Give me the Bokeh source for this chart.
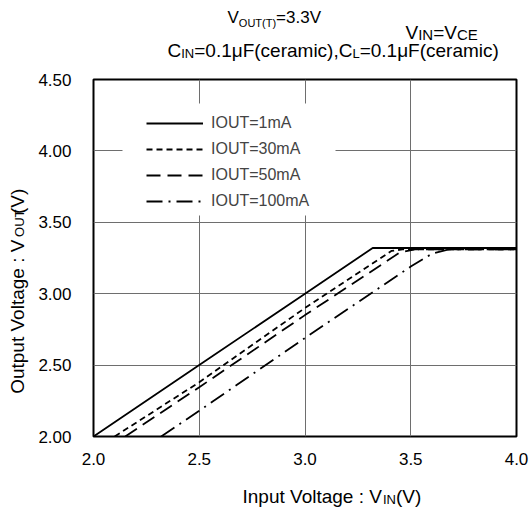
import math
from bokeh.plotting import figure
from bokeh.layouts import column, row
from bokeh.models import Label, Legend, LegendItem, FixedTicker, NumeralTickFormatter, BoxAnnotation, Range1d
from bokeh.embed import file_html
from bokeh.resources import INLINE

# ---------------- data ----------------
vin_1mA = [2.00, 2.50, 3.00, 3.32, 3.50, 4.00]
vout_1mA = [2.00, 2.50, 3.00, 3.32, 3.32, 3.32]

vin_30mA = [2.10, 2.50, 3.00, 3.41, 3.46, 4.00]
vout_30mA = [2.00, 2.38, 2.90, 3.30, 3.31, 3.31]

vin_50mA = [2.15, 2.50, 3.00, 3.45, 3.52, 4.00]
vout_50mA = [2.00, 2.345, 2.85, 3.29, 3.31, 3.31]

vin_100mA = [2.32, 2.50, 3.00, 3.50, 3.60, 3.68, 4.00]
vout_100mA = [2.00, 2.18, 2.69, 3.19, 3.28, 3.31, 3.31]

series_labels = ["IOUT=1mA", "IOUT=30mA", "IOUT=50mA", "IOUT=100mA"]
x_ticks = [2.0, 2.5, 3.0, 3.5, 4.0]
y_ticks = [2.0, 2.5, 3.0, 3.5, 4.0, 4.5]

FONT = "Liberation Sans"

# ---------------- layout sizes (page pixels) ----------------
TOP_H, LEFT_W, BOT_H = 66, 30, 30
TOTAL_W, TOTAL_H = 529, 513
MAIN_W, MAIN_H = TOTAL_W - LEFT_W, TOTAL_H - TOP_H - BOT_H
FRAME_T = 79 - TOP_H

# ---------------- main figure ----------------
p = figure(width=MAIN_W, height=MAIN_H, output_backend="svg", toolbar_location=None, title=None,
           x_range=Range1d(2.0, 4.0), y_range=Range1d(2.0, 4.5),
           min_border_left=93 - LEFT_W, min_border_right=13, min_border_top=FRAME_T,
           min_border_bottom=MAIN_H - FRAME_T - 357)
p.background_fill_color = "white"
p.border_fill_color = "white"
p.outline_line_color = "black"
p.outline_line_width = 2

for ax in (p.xaxis[0], p.yaxis[0]):
    ax.axis_line_color = None
    ax.major_tick_line_color = None
    ax.minor_tick_line_color = None
    ax.major_label_text_font = FONT
    ax.major_label_text_font_size = "17px"
    ax.major_label_text_color = "black"
p.xaxis[0].ticker = FixedTicker(ticks=x_ticks)
p.yaxis[0].ticker = FixedTicker(ticks=y_ticks)
p.xaxis[0].formatter = NumeralTickFormatter(format="0.0")
p.yaxis[0].formatter = NumeralTickFormatter(format="0.00")
p.xaxis[0].major_label_standoff = 10
p.yaxis[0].major_label_standoff = 16

p.xgrid.ticker = FixedTicker(ticks=[2.5, 3.0, 3.5])
p.ygrid.ticker = FixedTicker(ticks=[2.5, 3.0, 3.5, 4.0])
p.grid.grid_line_color = "#6e6e6e"
p.grid.grid_line_width = 1

lw = 1.8
r1 = p.line(vin_1mA, vout_1mA, line_color="black", line_width=lw)
r2 = p.line(vin_30mA, vout_30mA, line_color="black", line_width=lw, line_dash="6 4")
r3 = p.line(vin_50mA, vout_50mA, line_color="black", line_width=lw, line_dash="14 7")
r4 = p.line(vin_100mA, vout_100mA, line_color="black", line_width=lw, line_dash="16 6 2 6")

# page pixel -> main data coordinates (frame spans x 93..516, y 79..436)
def dx(px):
    return 2.0 + (px - 93) / 423 * 2.0

def dy(py):
    return 2.0 + (436 - py) / 357 * 2.5

p.add_layout(BoxAnnotation(left=dx(122), right=dx(335), top=dy(103), bottom=dy(215),
                           fill_color="white", fill_alpha=1.0, line_color=None))
legend = Legend(items=[LegendItem(label=series_labels[0], renderers=[r1]),
                       LegendItem(label=series_labels[1], renderers=[r2]),
                       LegendItem(label=series_labels[2], renderers=[r3]),
                       LegendItem(label=series_labels[3], renderers=[r4])],
                location=(53, 225), orientation="vertical",
                glyph_width=57, glyph_height=20, label_height=20, spacing=6,
                padding=10, margin=0, label_standoff=8,
                label_text_font=FONT, label_text_font_size="16px",
                border_line_color=None, background_fill_color="white", background_fill_alpha=1.0)
p.add_layout(legend, "center")

# ---------------- text figures ----------------
W = {" ": 278, "(": 333, ")": 333, ",": 278, ".": 278, ":": 278, "=": 584,
     "A": 667, "C": 722, "E": 667, "F": 611, "I": 278, "L": 556, "N": 722,
     "O": 778, "T": 611, "U": 722, "V": 667, "a": 556, "c": 500, "e": 556,
     "g": 556, "i": 222, "l": 222, "m": 833, "n": 556, "o": 556, "p": 556,
     "r": 333, "t": 278, "u": 556, "\u03bc": 576}

def tw(s, size):
    return sum(W.get(c, 556) for c in s) * size / 1000.0

def text_fig(w, h):
    f = figure(width=w, height=h, output_backend="svg", toolbar_location=None, title=None,
               x_range=Range1d(0, w), y_range=Range1d(0, h), x_axis_type=None, y_axis_type=None,
               min_border=0)
    f.outline_line_color = None
    f.background_fill_color = "white"
    f.border_fill_color = "white"
    return f

BASE_FIX = 0.4    # baseline correction (fraction of font size)
MID = 0.3465      # baseline -> middle of text box (fraction of font size)
ROT_FIX = 0.14    # along-text correction for rotated runs (fraction of run length)

def runs(f, ox, oy, h, x_px, y_px, parts, vertical=False):
    for text, size, shift in parts:
        L = tw(text, size)
        if not vertical:
            f.add_layout(Label(x=x_px - ox, y=h - (y_px + shift - BASE_FIX * size - oy),
                               text=text, text_font=FONT,
                               text_font_size=f"{size}px", text_baseline="alphabetic",
                               text_align="left", text_color="black"))
            x_px += L
        else:
            cx = x_px + shift - MID * size
            cy = y_px - L / 2.0 + ROT_FIX * L
            f.add_layout(Label(x=cx - ox, y=h - (cy - oy), text=text, text_font=FONT,
                               angle=math.pi / 2, text_font_size=f"{size}px",
                               text_baseline="middle", text_align="center",
                               text_color="black"))
            y_px -= L

top = text_fig(TOTAL_W, TOP_H)
runs(top, 0, 0, TOP_H, 227, 24, [("V", 17, 0), ("OUT(T)", 11, 3), ("=3.3V", 17, 0)])
runs(top, 0, 0, TOP_H, 405, 40, [("V", 19, 0), ("IN", 15, 0), ("=V", 19, 0), ("CE", 15, 0)])
runs(top, 0, 0, TOP_H, 167, 58, [("C", 19, 0), ("IN", 13, 0), ("=0.1\u03bcF(ceramic),C", 19, 0),
                                 ("L", 13, 0), ("=0.1\u03bcF(ceramic)", 19, 0)])

left = text_fig(LEFT_W, MAIN_H)
runs(left, 0, TOP_H, MAIN_H, 24, 399, [("Output Voltage : V", 19, 0), ("OUT", 13, 0), (" (V)", 19, 0)],
     vertical=True)

bottom = text_fig(TOTAL_W, BOT_H)
runs(bottom, 0, TOP_H + MAIN_H, BOT_H, 242, 504, [("Input Voltage : V", 19, 0), ("IN", 13, 0), (" (V)", 19, 0)])

layout = column(top, row(left, p), bottom)

open("out.html", "w").write(file_html(layout, INLINE))
